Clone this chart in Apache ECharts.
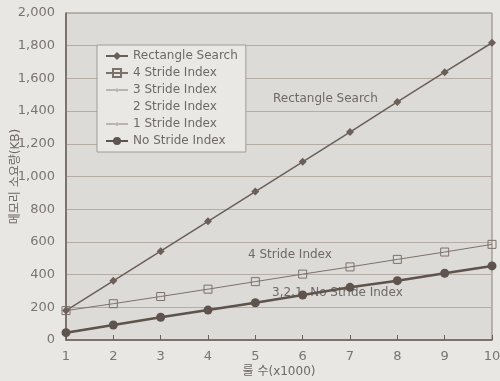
<!DOCTYPE html>
<html>
<head>
<meta charset="utf-8">
<script src="https://cdn.jsdelivr.net/npm/echarts@6/dist/echarts.min.js"></script>
<style>
  html, body { margin: 0; padding: 0; background: #e8e7e4; }
  #chart { width: 500px; height: 381px; }
</style>
</head>
<body>
<div id="chart"></div>
<script>
var rules = ['1', '2', '3', '4', '5', '6', '7', '8', '9', '10'];
var rectSearch = [180, 362, 543, 726, 908, 1090, 1272, 1456, 1638, 1818];
var stride4 = [180, 222, 266, 311, 357, 403, 447, 493, 538, 585];
var stride3 = [46, 92, 139, 184, 229, 275, 321, 364, 409, 454];
var stride2 = [46, 92, 139, 184, 229, 275, 321, 364, 409, 454];
var stride1 = [46, 92, 139, 184, 229, 275, 321, 364, 409, 454];
var noStride = [45, 92, 139, 183, 228, 275, 322, 363, 408, 453];

var font = 'DejaVu Sans, Noto Sans CJK KR, sans-serif';
var lineCol = '#6b5f58';
// thin line with a small dot, padded to a 22x10 box for the legend
var thinDot = 'path://M0,0L0,0M22,10L22,10M0,4.5L22,4.5L22,5.5L0,5.5Z' +
    'M9.5,5a1.5,1.5 0 1,0 3,0a1.5,1.5 0 1,0 -3,0Z';

var chart = echarts.init(document.getElementById('chart'));
chart.setOption({
    backgroundColor: '#e8e7e4',
    animation: false,
    textStyle: { fontFamily: font },
    grid: {
        left: 66, right: 8, top: 13, bottom: 41,
        outerBoundsMode: 'none',
        containLabel: false,
        show: true,
        backgroundColor: '#dcdbd8',
        borderColor: '#8a7e77',
        borderWidth: 1
    },
    legend: {
        orient: 'vertical',
        left: 97, top: 45,
        width: 173,
        padding: [5, 8, 5, 8],
        backgroundColor: '#e9e8e5',
        borderColor: '#a39a94',
        borderWidth: 1,
        itemWidth: 22, itemHeight: 10, itemGap: 5,
        textStyle: { color: '#6f6965', fontSize: 12, fontFamily: font },
        data: [
            'Rectangle Search',
            '4 Stride Index',
            { name: '3 Stride Index', icon: thinDot },
            { name: '2 Stride Index', icon: thinDot, itemStyle: { opacity: 0 }, lineStyle: { opacity: 0 } },
            { name: '1 Stride Index', icon: thinDot },
            'No Stride Index'
        ]
    },
    xAxis: {
        type: 'category',
        data: rules,
        boundaryGap: false,
        name: '룰 수(x1000)',
        nameLocation: 'middle',
        nameGap: 26,
        nameMoveOverlap: false,
        nameTextStyle: { color: '#6f6965', fontSize: 12, fontFamily: font },
        axisLine: { lineStyle: { color: '#6b5f58', width: 1.5 } },
        axisTick: { inside: true, length: 5, lineStyle: { color: '#6b5f58' } },
        axisLabel: { color: '#7a7470', fontSize: 13, margin: 10, fontFamily: font },
        splitLine: { show: false }
    },
    yAxis: {
        type: 'value',
        min: 0, max: 2000, interval: 200,
        name: '메모리 소요량(KB)',
        nameLocation: 'middle',
        nameGap: 44,
        nameMoveOverlap: false,
        nameTextStyle: { color: '#6f6965', fontSize: 12, fontFamily: font },
        axisLine: { show: true, lineStyle: { color: '#6b5f58', width: 1.5 } },
        axisTick: { show: false },
        axisLabel: {
            color: '#7a7470', fontSize: 13, margin: 11, fontFamily: font,
            formatter: function (v) { return v.toLocaleString('en-US'); }
        },
        splitLine: { lineStyle: { color: '#b5aca6', width: 1 } }
    },
    graphic: [
        { type: 'text', left: 273, top: 93, style: { text: 'Rectangle Search', fill: '#6f6965', font: '12px ' + font } },
        { type: 'text', left: 248, top: 249, style: { text: '4 Stride Index', fill: '#6f6965', font: '12px ' + font } },
        { type: 'text', left: 272, top: 287, style: { text: '3,2,1, No Stride Index', fill: '#6f6965', font: '12px ' + font } }
    ],
    series: [
        {
            name: 'Rectangle Search', type: 'line', data: rectSearch,
            symbol: 'diamond', symbolSize: 8,
            lineStyle: { color: lineCol, width: 1.5 },
            itemStyle: { color: lineCol }
        },
        {
            name: '4 Stride Index', type: 'line', data: stride4,
            symbol: 'rect', symbolSize: 8,
            lineStyle: { color: '#7d716b', width: 1 },
            itemStyle: { color: 'rgba(0,0,0,0)', borderColor: '#7d716b', borderWidth: 1 }
        },
        {
            name: '3 Stride Index', type: 'line', data: stride3,
            symbol: 'circle', symbolSize: 3,
            lineStyle: { color: '#8d827c', width: 1 },
            itemStyle: { color: '#8d827c' }
        },
        {
            name: '2 Stride Index', type: 'line', data: stride2,
            symbol: 'none',
            lineStyle: { color: '#e9e8e5', width: 1 },
            itemStyle: { color: '#e9e8e5' }
        },
        {
            name: '1 Stride Index', type: 'line', data: stride1,
            symbol: 'circle', symbolSize: 3,
            lineStyle: { color: '#8d827c', width: 1 },
            itemStyle: { color: '#8d827c' }
        },
        {
            name: 'No Stride Index', type: 'line', data: noStride,
            symbol: 'circle', symbolSize: 9,
            lineStyle: { color: '#5e534d', width: 2.5 },
            itemStyle: { color: '#5e534d' }
        }
    ]
});
window.addEventListener('resize', function () {
    chart.resize();
});
</script>
</body>
</html>
